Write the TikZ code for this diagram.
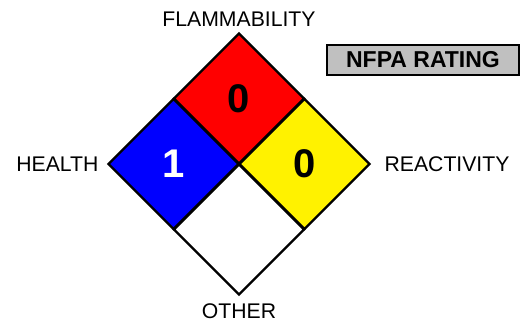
\documentclass[tikz,border=0pt]{standalone}
\usepackage{fontspec}
\setmainfont{Liberation Sans}
\usepackage{xcolor}
\usetikzlibrary{shapes.geometric,positioning}
\definecolor{boxgray}{RGB}{192,192,192}
\tikzstyle{hazard} = [diamond, draw=black, line width=1.2pt, inner sep=0pt, minimum width=65.5pt, minimum height=65.5pt, font=\fontsize{20}{23}\selectfont\bfseries]
\tikzstyle{caption} = [inner sep=0pt, font=\fontsize{10.6}{12}\selectfont]
\tikzstyle{ratingbox} = [rectangle, draw=black, line width=0.9pt, fill=boxgray, minimum width=96pt, minimum height=15pt, inner sep=0pt, font=\fontsize{11.5}{13}\selectfont\bfseries]

\begin{document}
\begin{tikzpicture}[x=0.5pt, y=-0.5pt]
    \useasboundingbox (0,0) rectangle (524,320);

    % Nodes
    \node (fl) [hazard, fill=red] at (239,98.5) {0};
    \node (he) [hazard, fill=blue, text=white] at (173.5,164) {1};
    \node (re) [hazard, fill=yellow] at (304.5,164) {0};
    \node (ot) [hazard, fill=white] at (239,229.5) {};
    \node (nfpa) [ratingbox] at (423,60) {NFPA RATING};

    % Labels
    \node (fltext) [caption, above=2.5pt of fl.north] {FLAMMABILITY};
    \node (hetext) [caption, left=4pt of he.west] {HEALTH};
    \node (retext) [caption, right=6.5pt of re.east] {REACTIVITY};
    \node (ottext) [caption, below=3.5pt of ot.south] {OTHER};

\end{tikzpicture}
\end{document}
